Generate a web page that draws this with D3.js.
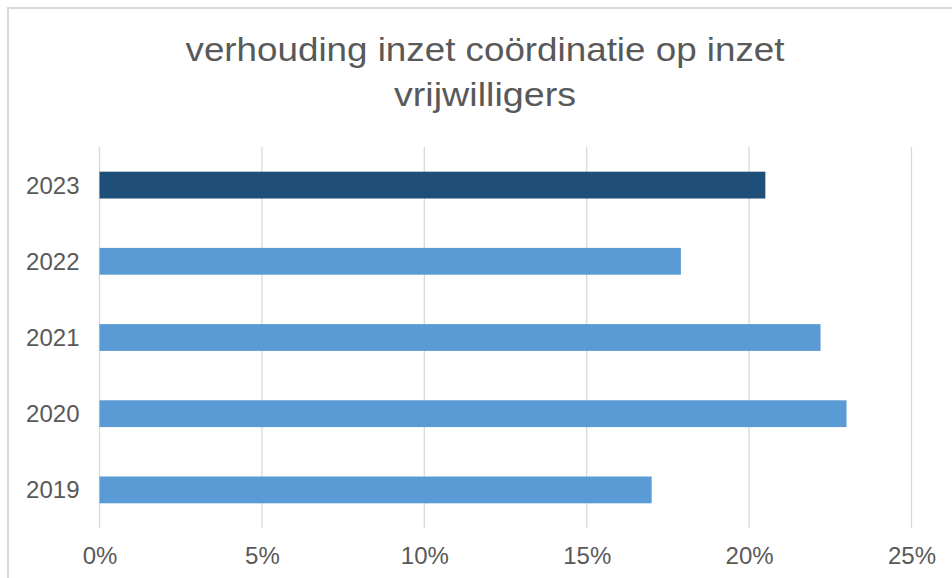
<!DOCTYPE html>
<html>
<head>
<meta charset="utf-8">
<script src="https://cdn.jsdelivr.net/npm/d3@7"></script>
<style>
  html, body { margin: 0; padding: 0; background: #fff; }
  svg { display: block; }
</style>
</head>
<body>
<svg id="chart" width="952" height="578"></svg>
<script>
const titleLines = ["verhouding inzet coördinatie op inzet", "vrijwilligers"];
const categories = ["2023", "2022", "2021", "2020", "2019"];
const values = [0.205, 0.179, 0.222, 0.230, 0.170];
const barColors = ["#1f4e79", "#5b9bd5", "#5b9bd5", "#5b9bd5", "#5b9bd5"];
const xTicks = [0, 0.05, 0.10, 0.15, 0.20, 0.25];

const svg = d3.select("#chart");
const W = 952, H = 578;
const textColor = "#595959";
const font = "'Liberation Sans', Arial, sans-serif";

// outer frame (cropped at right and bottom)
svg.append("rect")
  .attr("x", 8).attr("y", 8)
  .attr("width", W + 20).attr("height", H + 20)
  .attr("fill", "#fff")
  .attr("stroke", "#d9d9d9").attr("stroke-width", 2);

// title
const title = svg.append("g").attr("font-family", font).attr("fill", textColor).attr("font-size", 32.5);
const titleWidths = [599, 182];
titleLines.forEach((t, i) => {
  title.append("text")
    .attr("x", 485).attr("y", 61 + i * 44.5)
    .attr("text-anchor", "middle")
    .attr("textLength", titleWidths[i])
    .attr("lengthAdjust", "spacingAndGlyphs")
    .text(t);
});

const plot = { left: 99.5, right: 911.5, top: 147, bottom: 528 };

const x = d3.scaleLinear().domain([0, 0.25]).range([plot.left, plot.right]);
const y = d3.scaleBand().domain(categories).range([plot.top, plot.bottom]).paddingInner(0.648).paddingOuter(0.324);

// gridlines
svg.append("g")
  .selectAll("line")
  .data(xTicks)
  .join("line")
  .attr("x1", d => x(d)).attr("x2", d => x(d))
  .attr("y1", plot.top).attr("y2", plot.bottom)
  .attr("stroke", "#d9d9d9").attr("stroke-width", 1.3);

// bars
svg.append("g")
  .selectAll("rect")
  .data(categories)
  .join("rect")
  .attr("x", x(0))
  .attr("y", d => y(d))
  .attr("width", (d, i) => x(values[i]) - x(0))
  .attr("height", y.bandwidth())
  .attr("fill", (d, i) => barColors[i]);

// x axis
const xAxis = d3.axisBottom(x).tickValues(xTicks).tickFormat(d3.format(".0%")).tickSize(0).tickPadding(0);
const gx = svg.append("g").attr("transform", `translate(0,${plot.bottom})`).call(xAxis);
gx.select(".domain").remove();
gx.selectAll("text")
  .attr("font-family", font).attr("font-size", 24).attr("fill", textColor)
  .attr("y", 36).attr("dy", 0);

// y axis
const yAxis = d3.axisLeft(y).tickSize(0).tickPadding(20);
const gy = svg.append("g").attr("transform", `translate(${plot.left},0)`).call(yAxis);
gy.select(".domain").remove();
gy.selectAll("text")
  .attr("font-family", font).attr("font-size", 24).attr("fill", textColor)
  .attr("dy", "0.35em");
</script>
</body>
</html>
